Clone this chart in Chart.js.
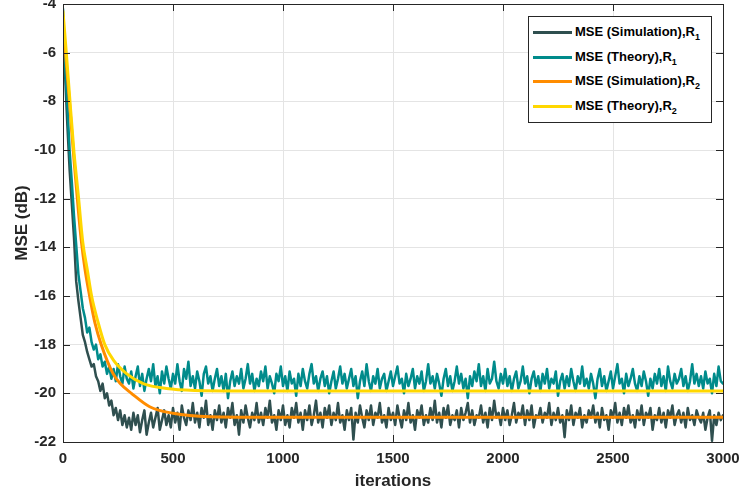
<!DOCTYPE html>
<html>
<head>
<meta charset="utf-8">
<script src="https://cdn.jsdelivr.net/npm/chart.js@4.4.0/dist/chart.umd.min.js"></script>
<style>
    body { margin: 0; background: #fff; }
    #wrap { position: relative; width: 740px; height: 497px; }
    #legend {
        position: absolute; left: 528px; top: 16px; width: 182px; height: 102px;
        border: 1px solid #262626; background: #fff; padding-top: 3px; box-sizing: content-box;
        font-family: "Liberation Sans", Arial, sans-serif; font-weight: bold; font-size: 13px; color: #000;
    }
    #legend .row { height: 24.5px; line-height: 24.5px; white-space: nowrap; }
    #legend .swatch { display: inline-block; width: 39px; height: 3px; margin: 0 3px 0 4px; vertical-align: middle; }
    #legend sub { font-size: 9px; vertical-align: -4px; line-height: 0; }
</style>
</head>
<body>
<div id="wrap">
    <canvas id="mseChart" width="740" height="497"></canvas>
    <div id="legend"></div>
</div>
<script>
// Axis ticks
const xTicks = [0, 500, 1000, 1500, 2000, 2500, 3000];
const yTicks = [-22, -20, -18, -16, -14, -12, -10, -8, -6, -4];

// Noisy curves, one value every 10 iterations (0..3000)
const noisyStep = 10;
const simR1 = [
    -4.5, -7.0, -9.0, -10.8, -12.2, -13.6, -15.4, -16.2, -16.9, -17.6,
    -17.9, -18.3, -18.6, -18.9, -18.8, -19.3, -19.5, -19.9, -19.6, -20.2,
    -20.0, -20.5, -20.3, -20.9, -20.6, -21.1, -20.7, -21.3, -20.9, -21.4,
    -21.0, -21.5, -20.8, -21.3, -20.9, -21.6, -21.1, -20.7, -21.7, -21.2,
    -20.8, -21.4, -21.0, -20.6, -21.5, -21.1, -20.7, -21.3, -20.9, -21.4,
    -20.6, -21.2, -20.8, -21.5, -20.5, -21.0, -21.3, -20.7, -21.1, -20.4,
    -21.2, -20.8, -21.4, -20.6, -21.0, -20.3, -21.3, -20.9, -21.5, -20.7,
    -21.1, -20.5, -21.2, -20.8, -21.4, -20.6, -21.0, -20.4, -21.3, -20.9,
    -21.7, -20.7, -21.2, -20.5, -21.0, -21.4, -20.8, -21.1, -20.4, -21.2,
    -20.8, -21.3, -20.6, -21.0, -20.3, -21.2, -20.9, -21.5, -20.7, -21.1,
    -20.5, -21.3, -20.9, -21.4, -20.6, -21.0, -20.4, -21.2, -20.8, -21.5,
    -20.7, -21.1, -20.5, -21.3, -20.9, -20.3, -21.2, -20.8, -21.4, -20.6,
    -21.0, -20.5, -21.3, -20.8, -21.1, -20.4, -21.2, -20.9, -21.5, -20.7,
    -21.1, -20.6, -21.9, -20.8, -21.2, -20.5, -21.0, -21.4, -20.7, -21.1,
    -20.5, -21.3, -20.8, -21.0, -20.4, -21.2, -20.9, -21.4, -20.6, -21.1,
    -20.8, -21.3, -20.5, -21.0, -21.4, -20.7, -21.1, -20.4, -21.2, -20.9,
    -21.5, -20.7, -21.0, -20.5, -21.3, -20.9, -21.2, -20.6, -21.1, -20.3,
    -21.2, -20.8, -21.4, -20.6, -21.0, -20.5, -21.3, -20.9, -21.1, -20.7,
    -21.4, -20.6, -21.1, -20.8, -20.4, -21.2, -20.7, -21.3, -20.9, -21.0,
    -20.5, -21.2, -20.8, -21.4, -20.6, -21.1, -20.3, -21.0, -20.8, -21.3,
    -20.6, -21.1, -20.7, -21.3, -20.9, -20.4, -21.2, -20.8, -21.0, -20.5,
    -21.3, -20.7, -21.1, -20.5, -21.4, -20.9, -21.0, -20.6, -21.2, -20.8,
    -21.0, -20.4, -21.3, -20.8, -21.1, -20.6, -21.2, -20.9, -21.8, -20.7,
    -21.1, -20.5, -21.3, -20.8, -21.0, -20.6, -21.4, -20.9, -21.2, -20.7,
    -21.0, -20.5, -21.2, -20.8, -21.4, -20.6, -21.1, -20.9, -21.5, -20.7,
    -21.0, -20.4, -21.2, -20.8, -21.3, -20.6, -21.0, -20.5, -21.2, -20.9,
    -21.4, -20.7, -21.1, -20.5, -21.3, -20.8, -21.0, -20.6, -21.5, -20.9,
    -21.1, -20.6, -21.2, -20.8, -21.4, -20.7, -21.0, -20.5, -21.3, -20.9,
    -20.7, -21.2, -20.8, -21.4, -20.6, -21.1, -20.9, -21.3, -20.7, -21.0,
    -21.2, -20.8, -21.5, -21.0, -20.7, -21.95, -20.9, -21.3, -20.8, -21.1,
    -20.9
];
const theoryR1 = [
    -4.2, -6.6, -8.2, -10.0, -11.3, -12.7, -13.9, -15.1, -15.8, -16.5,
    -16.9, -17.5, -17.3, -17.9, -18.2, -18.0, -18.6, -18.4, -18.9, -18.7,
    -19.2, -18.9, -19.4, -19.0, -19.5, -18.8, -19.3, -19.6, -18.9, -19.4,
    -19.6, -19.1, -19.8, -19.3, -18.9, -19.7, -19.2, -19.9, -19.4, -19.0,
    -19.5, -18.8, -19.7, -19.3, -20.0, -19.1, -19.6, -18.9, -19.4, -19.8,
    -19.2, -19.6, -18.8, -19.5, -19.9, -19.0, -19.4, -18.7, -19.7, -19.3,
    -19.8, -19.1, -19.5, -20.1, -19.2, -18.9, -19.6, -19.3, -19.9, -19.4,
    -19.0, -19.7, -19.3, -19.9, -19.2, -20.2, -19.5, -19.1, -19.7, -19.3,
    -19.6, -19.0, -19.8, -19.4, -18.8, -19.6, -19.2, -19.9, -19.4, -19.7,
    -19.1, -19.5, -18.9, -19.8, -19.3, -19.6, -20.0, -19.2, -19.5, -18.9,
    -19.7, -19.3, -19.9, -19.1, -19.6, -19.4, -20.1, -19.2, -19.7, -19.0,
    -19.5, -19.8, -19.2, -18.8, -19.6, -19.3, -19.9, -19.4, -19.1, -19.7,
    -19.3, -20.0, -19.5, -19.1, -19.8, -19.4, -18.9, -19.6, -19.2, -19.8,
    -19.4, -19.0, -19.7, -19.3, -20.2, -19.5, -19.1, -19.7, -18.8, -19.5,
    -19.9, -19.3, -19.6, -19.0, -19.8, -19.4, -19.2, -19.9, -19.5, -19.1,
    -19.7, -19.3, -18.9, -19.6, -19.4, -20.0, -19.2, -19.7, -19.4, -19.0,
    -19.8, -19.3, -19.6, -19.1, -19.9, -19.5, -18.8, -19.6, -19.3, -19.8,
    -19.2, -19.6, -20.1, -19.4, -19.0, -19.7, -19.3, -19.9, -19.5, -18.9,
    -19.6, -19.2, -19.8, -19.4, -20.2, -19.3, -19.7, -19.1, -19.5, -18.8,
    -19.7, -19.3, -19.9, -19.0, -19.6, -19.4, -18.7, -19.5, -19.8, -19.2,
    -19.6, -19.0, -19.7, -19.3, -19.9, -19.4, -19.1, -19.8, -19.5, -18.9,
    -19.6, -19.3, -20.0, -19.4, -19.1, -19.7, -19.3, -19.9, -19.2, -19.6,
    -19.0, -19.8, -19.4, -19.6, -19.1, -20.1, -19.5, -19.2, -19.8, -19.3,
    -19.7, -19.0, -19.5, -19.9, -19.3, -19.6, -18.9, -19.7, -19.4, -19.8,
    -19.2, -19.6, -20.2, -19.4, -19.0, -19.7, -19.3, -19.9, -19.5, -19.1,
    -19.8, -19.3, -18.8, -19.6, -19.4, -20.0, -19.2, -19.7, -19.4, -19.0,
    -19.6, -19.9, -19.3, -19.7, -19.1, -19.5, -20.1, -19.4, -19.8, -19.2,
    -19.6, -19.0, -19.7, -19.3, -19.9, -18.9, -19.5, -19.8, -19.2, -19.6,
    -19.4, -19.0, -19.7, -19.3, -19.9, -19.5, -18.8, -19.6, -19.2, -19.7,
    -19.3, -19.8, -19.1, -19.6, -19.4, -20.0, -19.2, -19.7, -18.9, -19.5,
    -19.6
];

// Smooth curves, read at selected iterations
const simR2Iters = [0, 15, 30, 50, 70, 83, 100, 121, 145, 174, 227, 260, 311, 394, 500, 667, 900, 3000];
const simR2 = [-4.85, -6.4, -8.1, -10.4, -12.5, -13.7, -14.9, -16.0, -17.1, -18.0, -19.18, -19.6, -20.0, -20.55, -20.82, -20.96, -20.98, -20.98];
const theoryR2Iters = [0, 15, 30, 50, 70, 90, 110, 130, 160, 190, 230, 290, 365, 470, 600, 800, 3000];
const theoryR2 = [-4.3, -6.0, -7.8, -10.1, -11.9, -13.8, -14.9, -16.0, -17.1, -18.0, -18.65, -19.2, -19.6, -19.8, -19.88, -19.9, -19.9];

const seriesColors = ['#2f4f4f', '#008b8b', '#ff8c00', '#ffd700'];
const seriesNames = ['MSE (Simulation),R', 'MSE (Theory),R', 'MSE (Simulation),R', 'MSE (Theory),R'];
const seriesSubs = ['1', '1', '2', '2'];

const toNoisyPoints = arr => arr.map((v, i) => ({ x: i * noisyStep, y: v }));
const toPoints = (xs, ys) => xs.map((x, i) => ({ x: x, y: ys[i] }));

const fontFamily = '"Liberation Sans", Arial, sans-serif';
const axisColor = '#262626';

// Box around the plot with inward ticks (MATLAB style)
const boxPlugin = {
    id: 'boxPlugin',
    afterDatasetsDraw(chart) {
        const { ctx, chartArea: a, scales } = chart;
        const len = 7;
        ctx.save();
        ctx.strokeStyle = axisColor;
        ctx.lineWidth = 1;
        ctx.beginPath();
        xTicks.forEach(v => {
            const px = Math.round(scales.x.getPixelForValue(v)) + 0.5;
            ctx.moveTo(px, a.bottom); ctx.lineTo(px, a.bottom - len);
            ctx.moveTo(px, a.top); ctx.lineTo(px, a.top + len);
        });
        yTicks.forEach(v => {
            const py = Math.round(scales.y.getPixelForValue(v)) + 0.5;
            ctx.moveTo(a.left, py); ctx.lineTo(a.left + len, py);
            ctx.moveTo(a.right, py); ctx.lineTo(a.right - len, py);
        });
        ctx.stroke();
        ctx.strokeRect(Math.round(a.left) + 0.5, Math.round(a.top) + 0.5,
            Math.round(a.right - a.left), Math.round(a.bottom - a.top));
        ctx.restore();
    }
};

const mseCtx = document.getElementById('mseChart').getContext('2d');
const mseChart = new Chart(mseCtx, {
    type: 'line',
    data: {
        datasets: [
            {
                label: seriesNames[0] + seriesSubs[0],
                data: toNoisyPoints(simR1),
                borderColor: seriesColors[0],
                borderWidth: 2.5,
                tension: 0,
                order: 4
            },
            {
                label: seriesNames[1] + seriesSubs[1],
                data: toNoisyPoints(theoryR1),
                borderColor: seriesColors[1],
                borderWidth: 2.5,
                tension: 0,
                order: 3
            },
            {
                label: seriesNames[2] + seriesSubs[2],
                data: toPoints(simR2Iters, simR2),
                borderColor: seriesColors[2],
                borderWidth: 3,
                cubicInterpolationMode: 'monotone',
                order: 2
            },
            {
                label: seriesNames[3] + seriesSubs[3],
                data: toPoints(theoryR2Iters, theoryR2),
                borderColor: seriesColors[3],
                borderWidth: 3,
                cubicInterpolationMode: 'monotone',
                order: 1
            }
        ]
    },
    options: {
        responsive: false,
        animation: false,
        layout: { padding: { left: 0, right: 17, top: 4, bottom: 0 } },
        elements: { point: { radius: 0 }, line: { borderCapStyle: 'round', borderJoinStyle: 'round' } },
        scales: {
            x: {
                type: 'linear',
                min: 0,
                max: 3000,
                afterBuildTicks: s => { s.ticks = xTicks.map(v => ({ value: v })); },
                afterFit: s => { s.height = 55; s.paddingLeft = 0; s.paddingRight = 0; },
                ticks: { color: axisColor, padding: 8, maxRotation: 0, callback: v => String(v), font: { family: fontFamily, size: 15, weight: 'bold' } },
                grid: { color: '#e4e4e4', drawTicks: false },
                border: { display: false },
                title: { display: true, text: 'iterations', color: axisColor, padding: { top: 0, bottom: 5 }, font: { family: fontFamily, size: 17, weight: 'bold' } }
            },
            y: {
                min: -22,
                max: -4,
                afterBuildTicks: s => { s.ticks = yTicks.map(v => ({ value: v })); },
                afterFit: s => { s.width = 63; s.paddingTop = 0; s.paddingBottom = 0; },
                ticks: { color: axisColor, padding: 7, callback: v => String(v), font: { family: fontFamily, size: 15, weight: 'bold' } },
                grid: { color: '#e4e4e4', drawTicks: false },
                border: { display: false },
                title: { display: true, text: 'MSE (dB)', color: axisColor, padding: { top: 12, bottom: 0 }, font: { family: fontFamily, size: 17, weight: 'bold' } }
            }
        },
        plugins: {
            legend: { display: false },
            tooltip: { enabled: false }
        }
    },
    plugins: [boxPlugin]
});

// Legend with subscripts
const legendEl = document.getElementById('legend');
seriesNames.forEach((name, i) => {
    const row = document.createElement('div');
    row.className = 'row';
    row.innerHTML = '<span class="swatch" style="background:' + seriesColors[i] + '"></span>' +
        name + '<sub>' + seriesSubs[i] + '</sub>';
    legendEl.appendChild(row);
});
</script>
</body>
</html>
